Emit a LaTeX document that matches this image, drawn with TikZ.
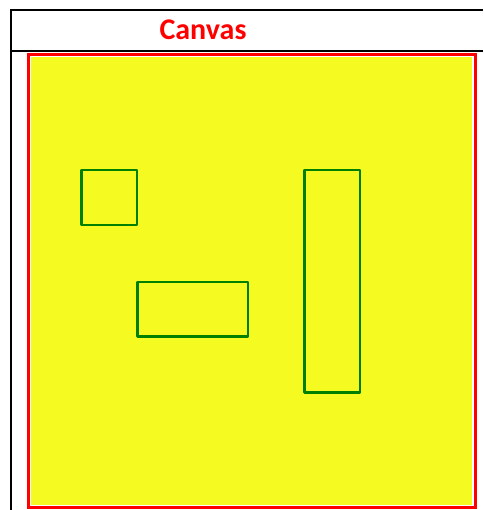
\documentclass[tikz,border=0pt]{standalone}
\usepackage{fontspec}
\setmainfont{Carlito}
\definecolor{canvasyellow}{RGB}{245,250,33}
\definecolor{boxgreen}{RGB}{0,128,0}
\begin{document}
\begin{tikzpicture}[x=1pt,y=-1pt,
  frame/.style={black,line width=2pt},
  canvasborder/.style={red,line width=3pt},
  shapebox/.style={draw=boxgreen,line width=2.4pt,line join=round}]
\useasboundingbox (0,0) rectangle (483,510);
\draw[frame] (483,10.5) -- (11,10.5) -- (11,510);
\draw[frame] (11,51) -- (483,51);
\node[red,font=\bfseries\fontsize{30}{33}\selectfont,anchor=base,inner sep=0pt] (title) at (203,39.5) {Canvas};
\draw[canvasborder] (28,54.5) rectangle (475,507.5);
\fill[canvasyellow] (30.5,57) rectangle (471.5,504.5);
\node[shapebox,minimum width=55.5pt,minimum height=55pt,inner sep=0pt] (sq) at (109.25,197.5) {};
\node[shapebox,minimum width=110.5pt,minimum height=54.5pt,inner sep=0pt] (rect) at (192.75,309.25) {};
\node[shapebox,minimum width=55.5pt,minimum height=222.5pt,inner sep=0pt] (tall) at (332.25,281.25) {};
\end{tikzpicture}
\end{document}
